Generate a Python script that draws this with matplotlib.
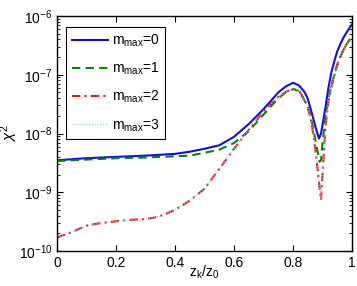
import matplotlib
matplotlib.use("Agg")
import matplotlib.pyplot as plt
from matplotlib.ticker import LogLocator, FixedLocator

plt.rcParams['font.family'] = ['Liberation Sans', 'DejaVu Sans']
plt.rcParams['mathtext.fontset'] = 'custom'
plt.rcParams['mathtext.rm'] = 'Liberation Sans'
plt.rcParams['mathtext.it'] = 'Liberation Sans:italic'
plt.rcParams['mathtext.bf'] = 'Liberation Sans:bold'

# data
x_m0 = [0.0, 0.1, 0.2, 0.3, 0.4, 0.45, 0.5, 0.55, 0.6, 0.65, 0.7, 0.75, 0.775, 0.8,
        0.82, 0.84, 0.85, 0.86, 0.87, 0.88, 0.888, 0.895, 0.9, 0.91, 0.92, 0.93,
        0.94, 0.95, 0.96, 0.97, 0.98, 0.99, 1.0]
y_m0 = [3.5e-9, 3.8e-9, 4.0e-9, 4.2e-9, 4.5e-9, 4.9e-9, 5.5e-9, 6.3e-9, 8.8e-9, 1.45e-8,
        2.6e-8, 5.0e-8, 6.3e-8, 7.3e-8, 6.6e-8, 5.0e-8, 3.9e-8, 2.6e-8, 1.7e-8, 1.1e-8,
        8.2e-9, 1.0e-8, 1.4e-8, 2.8e-8, 6.0e-8, 1.1e-7, 1.7e-7, 2.5e-7, 3.3e-7, 4.2e-7,
        5.1e-7, 6.1e-7, 7.2e-7]

x_m1 = [0.0, 0.1, 0.2, 0.3, 0.4, 0.45, 0.5, 0.55, 0.6, 0.65, 0.7, 0.75, 0.775, 0.8,
        0.82, 0.84, 0.85, 0.86, 0.87, 0.88, 0.89, 0.895, 0.9, 0.91, 0.92, 0.93,
        0.94, 0.95, 0.96, 0.97, 0.98, 0.99, 1.0]
y_m1 = [3.4e-9, 3.6e-9, 3.8e-9, 3.9e-9, 4.1e-9, 4.2e-9, 4.7e-9, 5.3e-9, 6.9e-9, 1.1e-8,
        2.1e-8, 4.0e-8, 5.0e-8, 5.7e-8, 5.3e-8, 3.6e-8, 2.8e-8, 1.9e-8, 1.1e-8, 6.0e-9,
        3.3e-9, 3.5e-9, 7.0e-9, 1.8e-8, 3.8e-8, 6.5e-8, 1.0e-7, 1.5e-7, 2.0e-7, 2.6e-7,
        3.2e-7, 3.8e-7, 4.4e-7]

x_m2 = [0.0, 0.05, 0.1, 0.15, 0.2, 0.25, 0.3, 0.33, 0.36, 0.4, 0.45, 0.5, 0.55, 0.6,
        0.65, 0.7, 0.75, 0.775, 0.8, 0.82, 0.84, 0.85, 0.86, 0.87, 0.88, 0.89, 0.895,
        0.9, 0.91, 0.92, 0.93, 0.94, 0.95, 0.96, 0.97, 0.98, 0.99, 1.0]
y_m2 = [1.7e-10, 2.1e-10, 2.7e-10, 3.0e-10, 3.2e-10, 3.4e-10, 3.5e-10, 3.7e-10, 4.1e-10,
        5.0e-10, 7.2e-10, 1.15e-9, 2.5e-9, 5.5e-9, 1.15e-8, 2.4e-8, 4.2e-8, 5.1e-8,
        5.8e-8, 5.4e-8, 3.7e-8, 2.8e-8, 1.8e-8, 9.0e-9, 3.5e-9, 1.2e-9, 7.4e-10, 2.0e-9,
        1.3e-8, 3.5e-8, 6.2e-8, 9.8e-8, 1.45e-7, 2.0e-7, 2.6e-7, 3.2e-7, 3.8e-7, 4.4e-7]

x_m3 = list(x_m2)
y_m3 = list(y_m2)

labels = ['m$_{\\mathrm{max}}$=0', 'm$_{\\mathrm{max}}$=1',
          'm$_{\\mathrm{max}}$=2', 'm$_{\\mathrm{max}}$=3']
xticks = [0, 0.2, 0.4, 0.6, 0.8, 1]
xticklabels = ['0', '0.2', '0.4', '0.6', '0.8', '1']

fig = plt.figure(figsize=(3.57, 2.86), dpi=100)
ax = fig.add_axes([0.16, 0.1224, 0.826, 0.8216])

ax.plot(x_m0, y_m0, color='#1010e0', lw=1.5, ls='-', label=labels[0])
ax.plot(x_m1, y_m1, color='#0a800a', lw=1.5, ls=(0, (4, 2.5)), label=labels[1])
ax.plot(x_m2, y_m2, color='#dd1c1c', lw=1.5, ls=(0, (4, 2, 1, 2)), label=labels[2])
ax.plot(x_m3, y_m3, color='#7fd6d6', lw=0.8, ls=(0, (1, 1.5)), label=labels[3])

ax.set_yscale('log')
ax.set_xlim(0, 1)
ax.set_ylim(1e-10, 1e-6)
ax.xaxis.set_major_locator(FixedLocator(xticks))
ax.set_xticklabels(xticklabels)
ax.yaxis.set_major_locator(LogLocator(base=10, numticks=10))
ax.yaxis.set_minor_locator(LogLocator(base=10, subs=range(2, 10), numticks=10))

ax.tick_params(which='both', direction='in', top=True, right=True, labelsize=10)
ax.tick_params(which='major', length=4, width=0.8)
ax.tick_params(which='minor', length=2, width=0.6)
for s in ax.spines.values():
    s.set_linewidth(1.0)

ax.set_xlabel('z$_{\\mathrm{k}}$/z$_{\\mathrm{0}}$', fontsize=10)
ax.xaxis.set_label_coords(0.5, -0.055, transform=ax.transAxes)
ax.set_ylabel('$\\chi^2$', fontsize=11)
ax.yaxis.set_label_coords(-0.125, 0.5, transform=ax.transAxes)

leg = ax.legend(loc='upper left', bbox_to_anchor=(0.03, 0.953), borderaxespad=0,
                fontsize=10, handlelength=2.6, labelspacing=0.85, borderpad=0.4,
                handletextpad=0.3, fancybox=False, framealpha=1)
leg.get_frame().set_edgecolor('black')
leg.get_frame().set_linewidth(0.8)

fig.savefig('out.png', dpi=100)
